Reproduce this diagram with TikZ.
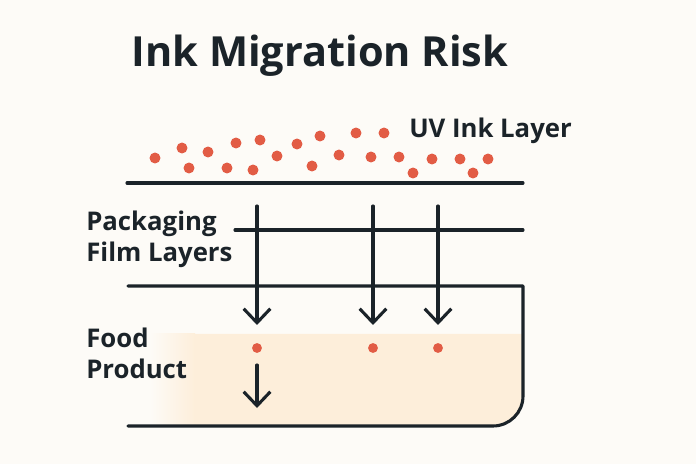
\documentclass[tikz,border=0pt]{standalone}
\usepackage{fontspec}
\setmainfont{Open Sans}
\usetikzlibrary{arrows.meta,positioning}
\definecolor{ink}{HTML}{E25C45}
\definecolor{dark}{HTML}{1B2329}
\definecolor{paper}{HTML}{FDFBF7}
\definecolor{food}{HTML}{FDEEDA}

\begin{document}
\begin{tikzpicture}[
    x=0.025cm, y=-0.025cm,
    ttl/.style={font=\bfseries\fontsize{29.5}{34}\selectfont, text=dark, inner sep=0pt},
    lbl/.style={font=\bfseries\fontsize{18.3}{22}\selectfont, text=dark, align=left, anchor=west, inner sep=0pt},
    ln/.style={draw=dark, line width=2.2pt, line cap=round},
    fl/.style={ln, -{Straight Barb[length=10pt, width=19pt, line width=2.2pt]}},
    drop/.style={circle, fill=ink, inner sep=0pt, minimum size=7.8pt},
    sdrop/.style={drop, minimum size=7pt},
]
    % page and food region
    \fill[paper] (0,0) rectangle (696,464);
    \shade[left color=paper, right color=food] (150,334) rectangle (195,426);
    \fill[food] (194,334) -- (523,334) -- (523,396) arc[start angle=0, end angle=90, radius=30] -- (194,426) -- cycle;

    % labels
    \node[ttl] (title) at (320,56) {Ink Migration Risk};
    \node[lbl] (uv) at (409,131) {UV Ink Layer};
    \node[lbl] (film) at (86,239) {Packaging\\Film Layers};
    \node[lbl] (food) at (86,353) {Food\\Product};

    % ink droplets
    \foreach \px/\py [count=\i] in {155/158, 182/148, 189/168, 208/152, 227/168, 236/143,
        253/170, 260/140, 277/156, 297/144, 312/166, 320/136, 339/155, 356/133,
        371/157, 384/133, 399/157, 413/173, 432/159, 460/159, 473/173, 488/159}
        \node[drop] (ink\i) at (\px,\py) {};

    % layers
    \coordinate (top0) at (127,183);
    \coordinate (top1) at (523,183);
    \coordinate (mid0) at (235,230);
    \coordinate (mid1) at (523,230);
    \coordinate (low0) at (128,286);
    \coordinate (low1) at (523,286);
    \coordinate (bot0) at (128,426);
    \draw[ln] (top0) -- (top1);
    \draw[ln] (mid0) -- (mid1);
    \draw[ln, line join=round] (low0) -- (low1) -- (523,396) arc[start angle=0, end angle=90, radius=30] -- (bot0);

    % migrated droplets
    \node[sdrop] (m1) at (257,348) {};
    \node[sdrop] (m2) at (373,348) {};
    \node[sdrop] (m3) at (438,348) {};

    % migration paths
    \coordinate (s1) at (257,206);
    \coordinate (s2) at (373,206);
    \coordinate (s3) at (438,206);
    \coordinate (e1) at (257,325);
    \coordinate (e2) at (373,325);
    \coordinate (e3) at (438,325);
    \coordinate (s4) at (257,365);
    \coordinate (e4) at (257,408);
    \draw[fl] (s1) -- (e1);
    \draw[fl] (s2) -- (e2);
    \draw[fl] (s3) -- (e3);
    \draw[fl] (s4) -- (e4);
\end{tikzpicture}
\end{document}
